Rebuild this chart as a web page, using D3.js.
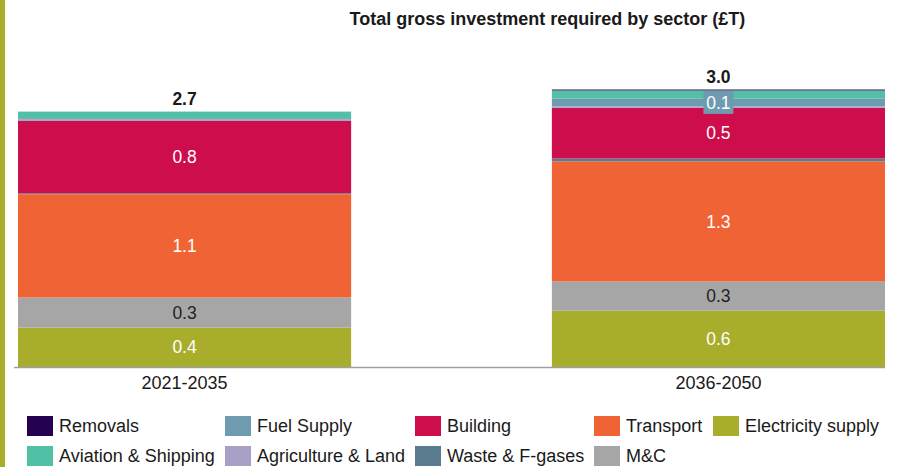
<!DOCTYPE html>
<html>
<head>
<meta charset="utf-8">
<script src="https://cdn.jsdelivr.net/npm/d3@7"></script>
<style>
  body { margin: 0; background: #fff; }
  svg { display: block; font-family: "Liberation Sans", Arial, sans-serif; }
</style>
</head>
<body>
<svg id="chart" width="899" height="467"></svg>
<script>
// Periods shown as stacked bars
const periods = ["2021-2035", "2036-2050"];

// Sectors in stacking order, bottom to top
const sectors = [
  "Electricity supply", "M&C", "Transport", "Waste & F-gases", "Building",
  "Agriculture & Land", "Fuel Supply", "Aviation & Shipping", "Removals"
];

// Investment (£T) per sector, one value per period
const electricity = [0.42, 0.60];
const manufacturing = [0.32, 0.31];
const transport = [1.10, 1.28];
const waste = [0.01, 0.03];
const building = [0.77, 0.54];
const agriculture = [0.015, 0.015];
const fuelSupply = [0.015, 0.085];
const aviation = [0.07, 0.085];
const removals = [0.0, 0.01];

const sectorValues = [electricity, manufacturing, transport, waste, building,
  agriculture, fuelSupply, aviation, removals];

const colors = {
  "Removals": "#230050",
  "Fuel Supply": "#6e9bb0",
  "Building": "#cd0d4c",
  "Transport": "#f06334",
  "Electricity supply": "#a9ad2c",
  "Aviation & Shipping": "#52c0a4",
  "Agriculture & Land": "#a9a0c6",
  "Waste & F-gases": "#5a7b8d",
  "M&C": "#a6a6a6"
};

// Legend layout order (two rows)
const legendRows = [
  ["Removals", "Fuel Supply", "Building", "Transport", "Electricity supply"],
  ["Aviation & Shipping", "Agriculture & Land", "Waste & F-gases", "M&C"]
];

// Segments whose value label sits on a filled box
const boxedLabels = [{ period: "2036-2050", sector: "Fuel Supply" }];

const table = periods.map((p, i) => {
  const row = { period: p };
  sectors.forEach((s, k) => { row[s] = sectorValues[k][i]; });
  return row;
});

const svg = d3.select("#chart");

// Accent bar along the left edge
svg.append("rect").attr("x", 0).attr("y", 0).attr("width", 5).attr("height", 467)
  .attr("fill", "#a9ad2c");

const baseY = 367;
const x = d3.scaleBand().domain(periods).range([18, 885]).paddingInner(0.376).paddingOuter(0);
const y = d3.scaleLinear().domain([0, 3.0]).range([baseY, baseY - 3.0 * 93.9]);

const stack = d3.stack().keys(sectors);
const series = stack(table);

const layers = svg.append("g").selectAll("g").data(series).join("g")
  .attr("fill", d => colors[d.key]);

layers.selectAll("rect").data(d => d.map(v => Object.assign(v, { key: d.key })))
  .join("rect")
  .attr("x", d => x(d.data.period))
  .attr("width", x.bandwidth())
  .attr("y", d => y(d[1]))
  .attr("height", d => Math.max(0, y(d[0]) - y(d[1])));

// Value labels
const labelled = [];
series.forEach(layer => {
  layer.forEach(d => {
    const v = d[1] - d[0];
    const boxed = boxedLabels.some(b => b.period === d.data.period && b.sector === layer.key);
    if (v >= 0.2 || boxed) labelled.push({ key: layer.key, d, v, boxed });
  });
});

const fmt = d3.format(".1f");
const labels = svg.append("g");
labelled.forEach(l => {
  const cx = x(l.d.data.period) + x.bandwidth() / 2;
  const cy = (y(l.d[0]) + y(l.d[1])) / 2;
  if (l.boxed) {
    labels.append("rect").attr("x", cx - 15).attr("y", cy - 11.5)
      .attr("width", 30).attr("height", 23).attr("fill", colors[l.key]);
  }
  labels.append("text")
    .attr("x", cx).attr("y", cy).attr("dy", "0.35em")
    .attr("text-anchor", "middle")
    .attr("font-size", 17.5)
    .attr("fill", l.key === "M&C" ? "#222" : "#fff")
    .text(fmt(l.v));
});

// Totals above each bar
svg.append("g").selectAll("text").data(table).join("text")
  .attr("x", d => x(d.period) + x.bandwidth() / 2)
  .attr("y", d => y(d3.sum(sectors, s => d[s])) - 7)
  .attr("text-anchor", "middle")
  .attr("font-size", 17.5)
  .attr("font-weight", "bold")
  .attr("fill", "#1a1a1a")
  .text(d => fmt(d3.sum(sectors, s => d[s])));

// Category axis
const axis = svg.append("g").attr("transform", `translate(0,${baseY})`)
  .call(d3.axisBottom(x).tickSize(0).tickPadding(9));
axis.select(".domain").attr("d", "M14,0.5H885").attr("stroke", "#a0a0a0").attr("stroke-width", 1.5);
axis.selectAll("text").attr("font-size", 18).attr("fill", "#1a1a1a")
  .attr("font-family", "Liberation Sans, Arial, sans-serif");

// Title
svg.append("text").attr("x", 547.5).attr("y", 25).attr("text-anchor", "middle")
  .attr("font-size", 18).attr("font-weight", "bold").attr("fill", "#1a1a1a")
  .text("Total gross investment required by sector (£T)");

// Legend
const colX = [27, 225, 415, 594, 713];
const rowY = [416, 446];
legendRows.forEach((row, r) => {
  row.forEach((name, c) => {
    const g = svg.append("g").attr("transform", `translate(${colX[c]},${rowY[r]})`);
    g.append("rect").attr("width", 26).attr("height", 20).attr("fill", colors[name]);
    g.append("text").attr("x", 32).attr("y", 10).attr("dy", "0.36em")
      .attr("font-size", 18).attr("fill", "#1a1a1a").text(name);
  });
});
</script>
</body>
</html>
